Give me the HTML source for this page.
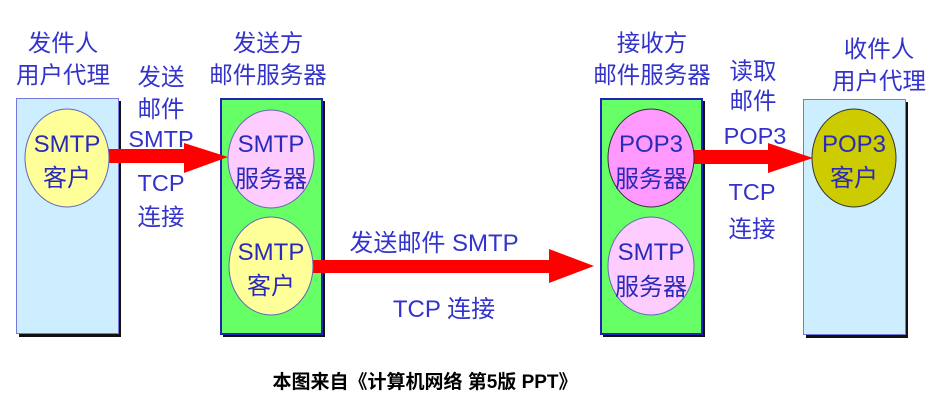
<!DOCTYPE html>
<html><head><meta charset="utf-8"><style>
html,body{margin:0;padding:0;background:#fff;}
svg{display:block;}
text{font-family:"Liberation Sans","Noto Sans CJK SC",sans-serif;fill:#3333cc;font-size:23.5px;text-anchor:middle;}
.c{font-size:24px;fill:#2a2ab8;}
</style></head><body>
<svg width="942" height="406" viewBox="0 0 942 406" xmlns="http://www.w3.org/2000/svg">
<rect x="19" y="101" width="102" height="236" fill="#111"/>
<rect x="223" y="101" width="102" height="236" fill="#111"/>
<rect x="603" y="101" width="102" height="236" fill="#111"/>
<rect x="806" y="102" width="102" height="236" fill="#111"/>
<rect x="16.5" y="98.5" width="102" height="235" fill="#cceeff" stroke="#7777dd" stroke-width="1"/>
<rect x="221" y="99" width="101" height="235" fill="#66ff66" stroke="#2222bb" stroke-width="2"/>
<rect x="601" y="99" width="101" height="235" fill="#66ff66" stroke="#2222bb" stroke-width="2"/>
<rect x="803.5" y="99.5" width="102" height="235" fill="#cceeff" stroke="#7777dd" stroke-width="1"/>
<polygon points="108,149 184,149 184,143 228,157 184,173 184,163 108,163" fill="#ff0000"/>
<polygon points="313,260 549,260 549,249 594,266 549,283 549,273 313,273" fill="#ff0000"/>
<polygon points="693,150 768,150 768,143 813,158 768,173 768,164 693,164" fill="#ff0000"/>
<ellipse cx="67" cy="158" rx="42" ry="49" fill="#ffff99" stroke="#6666bb"/>
<ellipse cx="271" cy="159" rx="43" ry="49" fill="#ffccff" stroke="#6666bb"/>
<ellipse cx="271" cy="266" rx="42" ry="49" fill="#ffff99" stroke="#6666bb"/>
<ellipse cx="651" cy="158" rx="43" ry="49" fill="#ff99ff" stroke="#333"/>
<ellipse cx="651" cy="266" rx="43" ry="49" fill="#ffccff" stroke="#6666bb"/>
<ellipse cx="854" cy="158" rx="42" ry="49" fill="#cccc00" stroke="#333"/>
<text x="67" y="152" class="c">SMTP</text><text x="67" y="186" class="c">客户</text>
<text x="271" y="152" class="c">SMTP</text><text x="271" y="187" class="c">服务器</text>
<text x="271" y="260" class="c">SMTP</text><text x="271" y="294" class="c">客户</text>
<text x="651" y="152" class="c">POP3</text><text x="651" y="187" class="c">服务器</text>
<text x="651" y="260" class="c">SMTP</text><text x="651" y="295" class="c">服务器</text>
<text x="854" y="152" class="c">POP3</text><text x="854" y="186" class="c">客户</text>
<text x="63" y="51">发件人</text><text x="63" y="83">用户代理</text>
<text x="268" y="51">发送方</text><text x="268" y="83">邮件服务器</text>
<text x="652" y="51">接收方</text><text x="652" y="83">邮件服务器</text>
<text x="879" y="57">收件人</text><text x="879" y="89">用户代理</text>
<text x="161" y="85">发送</text><text x="161" y="117">邮件</text>
<text x="161" y="147">SMTP</text><text x="161" y="191">TCP</text><text x="161" y="225">连接</text>
<text x="753" y="79">读取</text><text x="753" y="109">邮件</text>
<text x="755" y="144">POP3</text><text x="752" y="200">TCP</text><text x="752" y="237">连接</text>
<text x="434" y="251" style="font-size:24px">发送邮件 SMTP</text>
<text x="444" y="317" style="font-size:24px">TCP 连接</text>
<text x="425" y="388" style="fill:#000;font-size:19px;font-weight:bold;">本图来自《计算机网络 第5版 PPT》</text>
</svg>
</body></html>
